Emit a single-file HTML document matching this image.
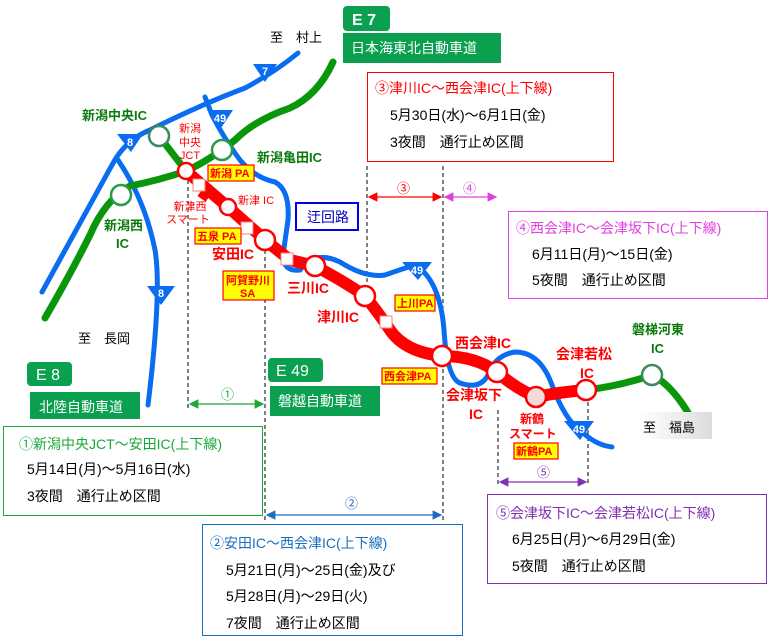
<!DOCTYPE html>
<html><head><meta charset="utf-8"><style>
body{margin:0;background:#fff}
svg{display:block}
text{font-family:"Liberation Sans","Noto Sans CJK JP",sans-serif}
</style></head><body>
<svg width="770" height="642" viewBox="0 0 770 642" xmlns="http://www.w3.org/2000/svg">
<defs>
<linearGradient id="g" x1="0" x2="1"><stop offset="0" stop-color="#fff"/><stop offset="1" stop-color="#ddd"/></linearGradient>
<marker id="ag" markerWidth="8" markerHeight="8" refX="7" refY="4" orient="auto-start-reverse"><path d="M0,0L8,4L0,8z" fill="#1aa83a"/></marker>
<marker id="ab" markerWidth="8" markerHeight="8" refX="7" refY="4" orient="auto-start-reverse"><path d="M0,0L8,4L0,8z" fill="#1a6fc0"/></marker>
<marker id="ar" markerWidth="8" markerHeight="8" refX="7" refY="4" orient="auto-start-reverse"><path d="M0,0L8,4L0,8z" fill="#f00"/></marker>
<marker id="am" markerWidth="8" markerHeight="8" refX="7" refY="4" orient="auto-start-reverse"><path d="M0,0L8,4L0,8z" fill="#e040e0"/></marker>
<marker id="ap" markerWidth="8" markerHeight="8" refX="7" refY="4" orient="auto-start-reverse"><path d="M0,0L8,4L0,8z" fill="#8030b0"/></marker>
</defs>

<g stroke="#000" stroke-width="1" stroke-dasharray="4,3">
<line x1="188" y1="180" x2="188" y2="410"/>
<line x1="265" y1="250" x2="265" y2="522"/>
<line x1="367" y1="166" x2="367" y2="290"/>
<line x1="443" y1="166" x2="443" y2="520"/>
<line x1="498" y1="410" x2="498" y2="484"/>
<line x1="588" y1="395" x2="588" y2="484"/>
</g>

<g fill="none" stroke="#0a6cf0" stroke-width="5" stroke-linecap="round">
<path d="M42,292 L112,165 Q125,140 150,130 Q200,105 245,88 Q275,72 298,53"/>
<path d="M118,160 Q145,200 155,250 Q162,290 148,405"/>
<path d="M205,97 L212,115 Q225,140 240,160 Q255,178 275,182 Q290,190 288,220 L283,255 Q283,272 300,270 Q315,250 340,262 Q365,278 385,275 Q405,268 415,265 Q440,280 444,330 Q447,378 460,383 Q480,390 488,375 Q495,355 515,352 Q540,352 552,385 Q565,420 580,430 Q595,445 612,447"/>
</g>
<g fill="none" stroke="#0a960a" stroke-width="7" stroke-linecap="round">
<path d="M333,62 Q318,95 290,108 Q255,120 235,140 Q210,160 186,171 Q160,180 130,186 Q105,200 90,235 Q70,275 45,318"/>
<path d="M159,136 L186,171"/>
<path d="M586,390 Q620,386 652,375 Q672,385 690,416"/>
</g>
<path d="M186,171 L228,207 L265,240 L290,260 L315,266 Q345,282 365,296 Q380,315 390,330 Q405,352 442,356 Q475,356 497,372 Q515,388 536,397 Q560,392 586,390" fill="none" stroke="#f00" stroke-width="12" stroke-linejoin="round"/>
<rect x="200" y="188" width="10" height="12" fill="#f00" transform="rotate(35 205 194)"/>

<g font-size="11" fill="#fff" font-weight="bold" text-anchor="middle">
<path d="M253,64 L277,64 L265,82z" fill="#0a6cf0"/><text x="265" y="75">7</text>
<path d="M117,134 L143,134 L131,152z" fill="#0a6cf0"/><text x="130" y="146">8</text>
<path d="M207,110 L233,110 L221,128z" fill="#0a6cf0"/><text x="220" y="122">49</text>
<path d="M147,286 L175,286 L161,305z" fill="#0a6cf0"/><text x="161" y="297">8</text>
<path d="M402,262 L432,262 L418,280z" fill="#0a6cf0"/><text x="417" y="274">49</text>
<path d="M564,421 L594,421 L580,440z" fill="#0a6cf0"/><text x="579" y="433">49</text>
</g>

<g fill="#fff" stroke-width="2.5">
<circle cx="159" cy="136" r="10" stroke="#3a8a5a"/>
<circle cx="222" cy="150" r="10" stroke="#2a9a4a"/>
<circle cx="121" cy="195" r="10" stroke="#2a9a4a"/>
<circle cx="652" cy="375" r="10" stroke="#3a8a5a"/>
<circle cx="186" cy="171" r="8" stroke="#f00"/>
<circle cx="228" cy="207" r="8" stroke="#f00"/>
<circle cx="265" cy="240" r="10" stroke="#f00"/>
<circle cx="315" cy="266" r="10" stroke="#f00"/>
<circle cx="365" cy="296" r="10" stroke="#f00"/>
<circle cx="442" cy="356" r="10" stroke="#f00"/>
<circle cx="497" cy="372" r="10" stroke="#f00"/>
<circle cx="536" cy="397" r="10" stroke="#f00" fill="#f0dada"/>
<circle cx="586" cy="390" r="10" stroke="#f00"/>
</g>
<g fill="#fff" stroke="#f08080" stroke-width="1">
<rect x="193" y="179" width="12" height="12"/>
<rect x="241" y="222" width="12" height="12"/>
<rect x="281" y="253" width="12" height="12"/>
<rect x="380" y="316" width="12" height="12"/>
</g>

<g font-weight="bold" fill="#0a7a0a" font-size="13">
<text x="82" y="120">新潟中央IC</text>
<text x="257" y="162">新潟亀田IC</text>
<text x="104" y="230">新潟西</text>
<text x="116" y="248">IC</text>
<text x="632" y="334">磐梯河東</text>
<text x="651" y="353">IC</text>
</g>
<g fill="#f00" font-size="11" text-anchor="middle">
<text x="190" y="132">新潟</text><text x="190" y="146">中央</text><text x="190" y="159">JCT</text>
<text x="190" y="210">新津西</text><text x="188" y="223">スマート</text>
<text x="256" y="204">新津 IC</text>
</g>
<g fill="#f00" font-size="14" font-weight="bold">
<text x="212" y="259">安田IC</text>
<text x="287" y="293">三川IC</text>
<text x="317" y="322">津川IC</text>
<text x="455" y="348">西会津IC</text>
<text x="446" y="400">会津坂下</text><text x="469" y="419">IC</text>
<text x="556" y="359">会津若松</text><text x="580" y="378">IC</text>
<text x="520" y="423" font-size="12">新鶴</text><text x="509" y="438" font-size="12">スマート</text>
</g>
<g fill="#ff0" stroke="#f00" stroke-width="1.2">
<rect x="208" y="165" width="46" height="16"/>
<rect x="195" y="228" width="46" height="16"/>
<rect x="223" y="271" width="51" height="29"/>
<rect x="395" y="295" width="40" height="16"/>
<rect x="382" y="368" width="55" height="16"/>
<rect x="514" y="443" width="44" height="16"/>
</g>
<g fill="#f00" font-size="11" font-weight="bold">
<text x="210" y="177">新潟 PA</text>
<text x="197" y="240">五泉 PA</text>
<text x="226" y="284">阿賀野川</text><text x="240" y="297">SA</text>
<text x="397" y="307">上川PA</text>
<text x="384" y="380">西会津PA</text>
<text x="516" y="455">新鶴PA</text>
</g>

<rect x="296" y="203" width="62" height="27" fill="#fff" stroke="#0000e0" stroke-width="2"/>
<text x="307" y="222" font-size="14" fill="#0000c0">迂回路</text>

<text x="270" y="42" font-size="13">至　村上</text>
<text x="78" y="343" font-size="13">至　長岡</text>
<rect x="640" y="412" width="72" height="27" fill="url(#g)"/>
<text x="643" y="432" font-size="13">至　福島</text>

<rect x="343" y="6" width="47" height="25" rx="4" fill="#0aa050"/>
<text x="352" y="25" font-size="16" font-weight="bold" fill="#fff">E 7</text>
<rect x="343" y="33" width="158" height="30" fill="#0aa050"/>
<text x="351" y="53" font-size="14" fill="#fff">日本海東北自動車道</text>
<rect x="27" y="362" width="45" height="24" rx="4" fill="#0aa050"/>
<text x="36" y="380" font-size="16" fill="#fff">E 8</text>
<rect x="30" y="392" width="110" height="27" fill="#0aa050"/>
<text x="39" y="412" font-size="14" fill="#fff">北陸自動車道</text>
<rect x="268" y="358" width="55" height="24" rx="4" fill="#0aa050"/>
<text x="276" y="376" font-size="16" fill="#fff">E 49</text>
<rect x="270" y="386" width="110" height="30" fill="#0aa050"/>
<text x="278" y="406" font-size="14" fill="#fff">磐越自動車道</text>

<line x1="190" y1="404" x2="263" y2="404" stroke="#1aa83a" stroke-width="1.2" marker-start="url(#ag)" marker-end="url(#ag)"/>
<text x="221" y="399" font-size="13" fill="#1aa83a">①</text>
<line x1="267" y1="515" x2="441" y2="515" stroke="#1a6fc0" stroke-width="1.2" marker-start="url(#ab)" marker-end="url(#ab)"/>
<text x="345" y="508" font-size="13" fill="#1a6fc0">②</text>
<line x1="369" y1="197" x2="441" y2="197" stroke="#f00" stroke-width="1.2" marker-start="url(#ar)" marker-end="url(#ar)"/>
<text x="397" y="193" font-size="13" fill="#f00">③</text>
<line x1="445" y1="197" x2="496" y2="197" stroke="#e040e0" stroke-width="1.2" marker-start="url(#am)" marker-end="url(#am)"/>
<text x="463" y="193" font-size="13" fill="#e040e0">④</text>
<line x1="500" y1="482" x2="586" y2="482" stroke="#8030b0" stroke-width="1.2" marker-start="url(#ap)" marker-end="url(#ap)"/>
<text x="537" y="477" font-size="13" fill="#8030b0">⑤</text>

<rect x="367.5" y="72.5" width="246" height="89" fill="#fff" stroke="#f00"/>
<text x="375" y="93" font-size="14" fill="#f00">③津川IC～西会津IC(上下線)</text>
<text x="390" y="120" font-size="14">5月30日(水)～6月1日(金)</text>
<text x="390" y="147" font-size="14">3夜間　通行止め区間</text>

<rect x="508.5" y="211.5" width="259" height="87" fill="#fff" stroke="#e040e0"/>
<text x="516" y="233" font-size="14" fill="#e040e0">④西会津IC～会津坂下IC(上下線)</text>
<text x="532" y="259" font-size="14">6月11日(月)～15日(金)</text>
<text x="532" y="285" font-size="14">5夜間　通行止め区間</text>

<rect x="3.5" y="426.5" width="259" height="89" fill="#fff" stroke="#1aa83a"/>
<text x="19" y="449" font-size="14" fill="#1aa83a">①新潟中央JCT～安田IC(上下線)</text>
<text x="27" y="474" font-size="14">5月14日(月)～5月16日(水)</text>
<text x="27" y="501" font-size="14">3夜間　通行止め区間</text>

<rect x="202.5" y="524.5" width="260" height="111" fill="#fff" stroke="#1a6fc0"/>
<text x="210" y="548" font-size="14" fill="#1a6fc0">②安田IC～西会津IC(上下線)</text>
<text x="226" y="575" font-size="14">5月21日(月)～25日(金)及び</text>
<text x="226" y="601" font-size="14">5月28日(月)～29日(火)</text>
<text x="226" y="628" font-size="14">7夜間　通行止め区間</text>

<rect x="487.5" y="494.5" width="279" height="89" fill="#fff" stroke="#8030b0"/>
<text x="496" y="518" font-size="14" fill="#8030b0">⑤会津坂下IC～会津若松IC(上下線)</text>
<text x="512" y="544" font-size="14">6月25日(月)～6月29日(金)</text>
<text x="512" y="571" font-size="14">5夜間　通行止め区間</text>
</svg>
</body></html>
